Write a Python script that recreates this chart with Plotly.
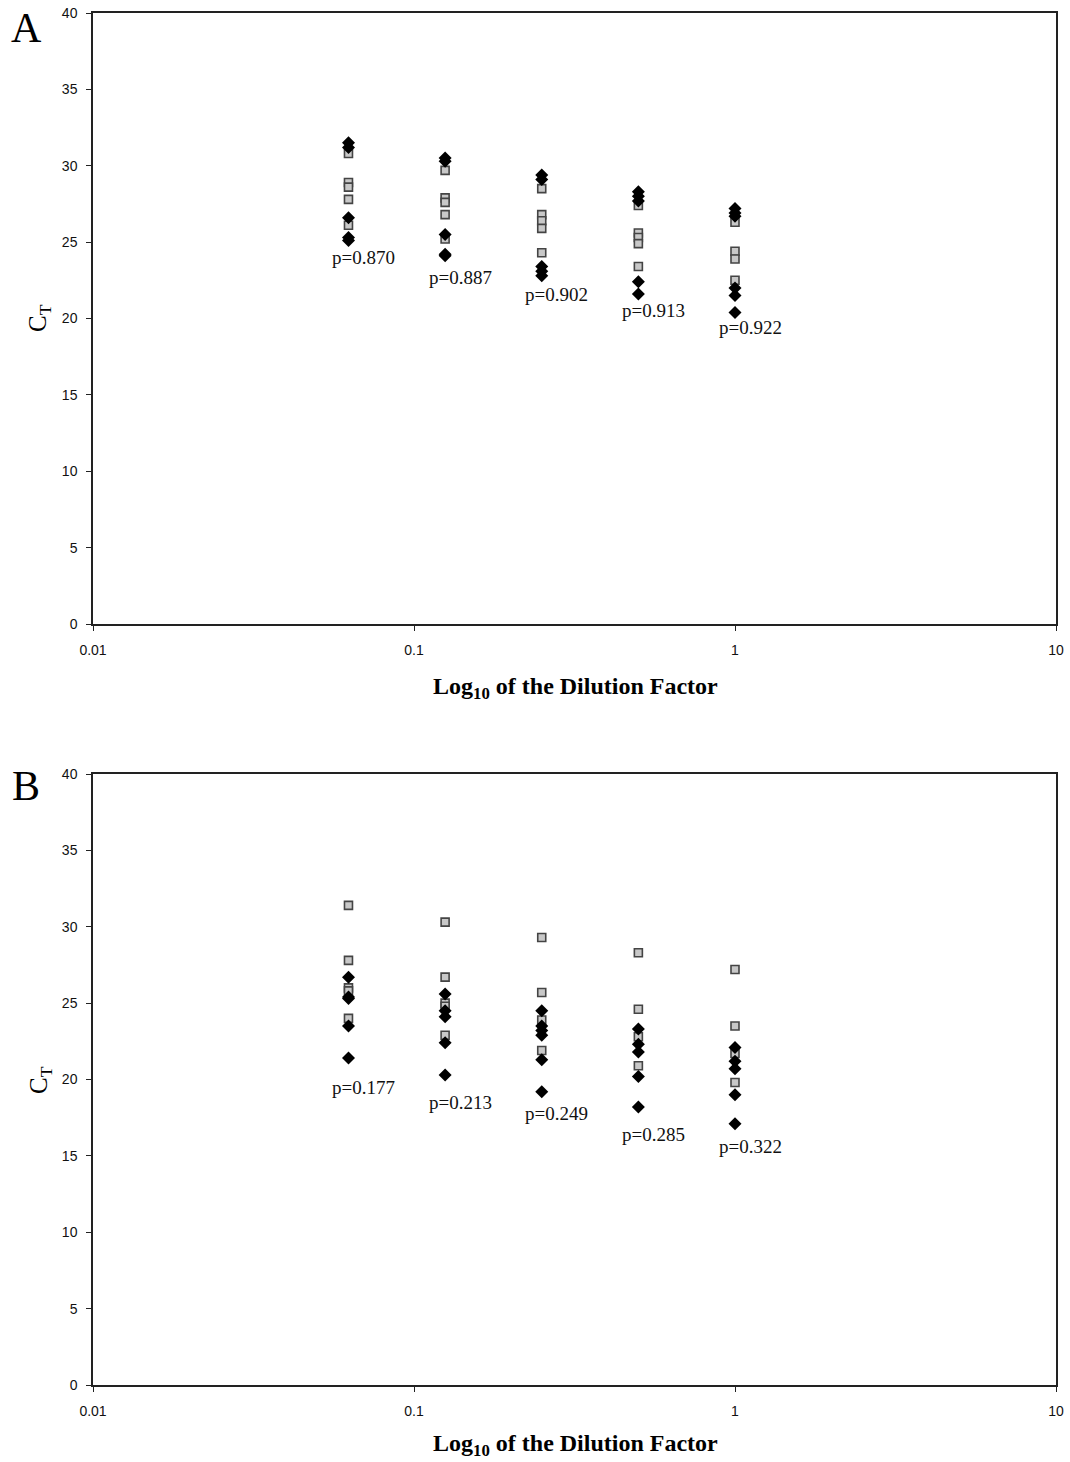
import math
import plotly.graph_objects as go

dilutions = [0.0625, 0.125, 0.25, 0.5, 1.0]

# Panel A
a_diamonds = [
    [31.5, 31.2, 26.6, 25.3, 25.1],
    [30.5, 30.3, 25.5, 24.2, 24.1],
    [29.4, 29.1, 23.4, 23.1, 22.8],
    [28.3, 28.0, 27.7, 22.4, 21.6],
    [27.2, 26.9, 26.7, 22.0, 21.5, 20.4],
]
a_squares = [
    [30.8, 28.9, 28.6, 27.8, 26.1],
    [29.7, 27.9, 27.6, 26.8, 25.2],
    [28.5, 26.8, 26.4, 25.9, 24.3],
    [27.4, 25.6, 25.3, 24.9, 23.4],
    [26.3, 24.4, 23.9, 22.5],
]
a_labels = ["p=0.870", "p=0.887", "p=0.902", "p=0.913", "p=0.922"]
a_label_y = [24.0, 22.7, 21.6, 20.5, 19.4]

# Panel B
b_diamonds = [
    [26.7, 25.4, 25.3, 23.5, 21.4],
    [25.6, 24.5, 24.1, 22.4, 20.3],
    [24.5, 23.5, 23.2, 22.9, 21.3, 19.2],
    [23.3, 22.3, 21.8, 20.2, 18.2],
    [22.1, 21.2, 20.7, 19.0, 17.1],
]
b_squares = [
    [31.4, 27.8, 26.0, 25.8, 24.0],
    [30.3, 26.7, 25.0, 24.8, 22.9],
    [29.3, 25.7, 23.9, 21.9],
    [28.3, 24.6, 22.8, 20.9],
    [27.2, 23.5, 21.7, 19.8],
]
b_labels = ["p=0.177", "p=0.213", "p=0.249", "p=0.285", "p=0.322"]
b_label_y = [19.45, 18.5, 17.8, 16.4, 15.6]

y_ticks = [0, 5, 10, 15, 20, 25, 30, 35, 40]
x_ticks = [0.01, 0.1, 1, 10]
x_ticklabels = ["0.01", "0.1", "1", "10"]


def flatten(groups):
    xs, ys = [], []
    for d, vals in zip(dilutions, groups):
        for v in vals:
            xs.append(d)
            ys.append(v)
    return xs, ys


fig = go.Figure()

panels = [
    ("x", "y", a_diamonds, a_squares, a_labels, a_label_y),
    ("x2", "y2", b_diamonds, b_squares, b_labels, b_label_y),
]

serif = "Liberation Serif, Times New Roman, serif"

for xa, ya, dia, sq, labels, label_y in panels:
    sx, sy = flatten(sq)
    fig.add_trace(go.Scatter(
        x=sx, y=sy, mode="markers", xaxis=xa, yaxis=ya,
        marker=dict(symbol="square", size=8, color="#c8c8c8",
                    line=dict(color="#444444", width=1.6)),
        showlegend=False))
    dx, dy = flatten(dia)
    fig.add_trace(go.Scatter(
        x=dx, y=dy, mode="markers", xaxis=xa, yaxis=ya,
        marker=dict(symbol="diamond", size=10, color="#000000",
                    line=dict(width=0)),
        showlegend=False))
    for d, t, ly in zip(dilutions, labels, label_y):
        fig.add_annotation(
            x=math.log10(d), y=ly, xref=xa, yref=ya, text=t,
            showarrow=False, xshift=15, xanchor="center", yanchor="middle",
            font=dict(family=serif, size=19, color="#111111"))

xdom = [93 / 1070, 1056 / 1070]
ydomA = [1 - 624 / 1462, 1 - 13 / 1462]
ydomB = [1 - 1385 / 1462, 1 - 774 / 1462]

axis_font = dict(family="Liberation Sans, Arial, sans-serif", size=14, color="#111111")

xcommon = dict(
    type="log", range=[-2, 1], tickvals=x_ticks, ticktext=x_ticklabels,
    showgrid=False, zeroline=False, showline=True, linecolor="#222222",
    linewidth=2, mirror=True, ticks="outside", ticklen=5, tickcolor="#222222",
    tickfont=axis_font, ticklabelstandoff=7, domain=xdom, automargin=False)
ycommon = dict(
    range=[0, 40], tickvals=y_ticks, showgrid=False, zeroline=False,
    showline=True, linecolor="#222222", linewidth=1.5, mirror=True,
    ticks="outside", ticklen=5, tickcolor="#222222", tickfont=axis_font,
    ticklabelstandoff=6, automargin=False)

fig.update_layout(
    width=1070, height=1462,
    margin=dict(l=0, r=0, t=0, b=0, autoexpand=False),
    paper_bgcolor="white", plot_bgcolor="white",
    xaxis=dict(**xcommon, anchor="y"),
    yaxis=dict(**ycommon, domain=ydomA, anchor="x"),
    xaxis2=dict(**xcommon, anchor="y2"),
    yaxis2=dict(**ycommon, domain=ydomB, anchor="x2"),
)

# Axis titles and panel letters
for ytitle_px, xtitle_px, letter, letter_px in [
        (318, 688, "A", 28), (1080, 1445, "B", 786)]:
    fig.add_annotation(
        x=40 / 1070, y=1 - ytitle_px / 1462, xref="paper", yref="paper",
        text="C<sub>T</sub>", textangle=-90, showarrow=False,
        xanchor="center", yanchor="middle",
        font=dict(family=serif, size=25, color="#000000"))
    fig.add_annotation(
        x=575 / 1070, y=1 - xtitle_px / 1462, xref="paper", yref="paper",
        text="<b>Log<sub>10</sub> of the Dilution Factor</b>", showarrow=False,
        xanchor="center", yanchor="middle",
        font=dict(family=serif, size=24, color="#000000"))
    fig.add_annotation(
        x=26 / 1070, y=1 - letter_px / 1462, xref="paper", yref="paper",
        text=letter, showarrow=False, xanchor="center", yanchor="middle",
        font=dict(family=serif, size=42, color="#000000"))

fig.write_html("out.html")
